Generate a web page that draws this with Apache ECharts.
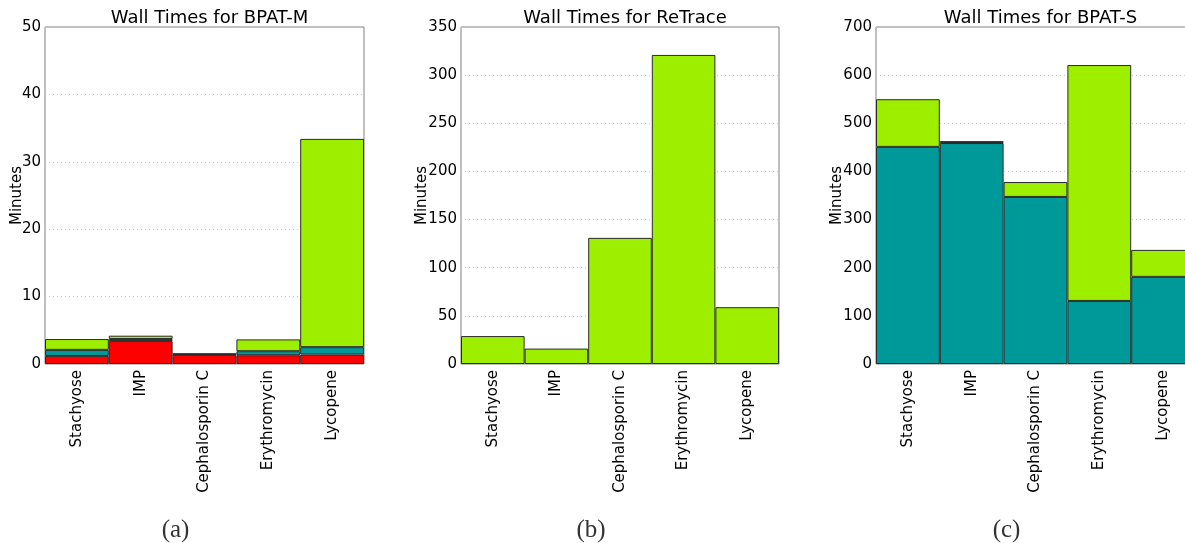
<!DOCTYPE html>
<html><head><meta charset="utf-8">
<script src="https://cdn.jsdelivr.net/npm/echarts@6/dist/echarts.min.js"></script>
<style>html,body{margin:0;padding:0;background:#fff;overflow:hidden}#c{width:1200px;height:543px}</style>
</head><body><div id="c"></div>
<script>
const categories = ['Stachyose', 'IMP', 'Cephalosporin C', 'Erythromycin', 'Lycopene'];
// Panel (a) BPAT-M stacked segments (minutes)
const bpatM_red   = [1.2, 3.4, 1.35, 1.3, 1.4];
const bpatM_teal  = [0.9, 0.3, 0.1, 0.6, 1.1];
const bpatM_green = [1.6, 0.5, 0.1, 1.75, 30.9];
// Panel (b) ReTrace
const retrace_green = [29, 16, 131, 321, 59];
// Panel (c) BPAT-S stacked segments
const bpatS_teal  = [451, 459, 347, 131, 181];
const bpatS_green = [99, 4, 31, 490, 56];

const titles = ['Wall Times for BPAT-M', 'Wall Times for ReTrace', 'Wall Times for BPAT-S'];
const yMax = [50, 350, 700];
const yInterval = [10, 50, 100];
const panelLabels = ['(a)', '(b)', '(c)'];

const RED = '#ff0000', TEAL = '#009999', GREEN = '#9eee00';
const FONT = 'DejaVu Sans';
const lefts = [45, 461, 876];
const widths = [319, 318, 319];
const nameGaps = [20, 31, 31];

const grids = [], xAxes = [], yAxes = [], titleArr = [];
for (let i = 0; i < 3; i++) {
  grids.push({left: lefts[i], top: 27, width: widths[i], height: 337, show: true,
    borderColor: '#808080', borderWidth: 1, backgroundColor: 'transparent'});
  xAxes.push({type: 'category', gridIndex: i, data: categories,
    axisLine: {show: false}, axisTick: {show: false},
    axisLabel: {rotate: 90, fontFamily: FONT, fontSize: 15, color: '#000', margin: 6, interval: 0}});
  yAxes.push({type: 'value', gridIndex: i, min: 0, max: yMax[i], interval: yInterval[i],
    name: 'Minutes', nameLocation: 'middle', nameGap: nameGaps[i], nameRotate: 90,
    nameMoveOverlap: false,
    nameTextStyle: {fontFamily: FONT, fontSize: 15, color: '#000'},
    axisLine: {show: false}, axisTick: {show: false},
    axisLabel: {fontFamily: FONT, fontSize: 15, color: '#000', margin: 4},
    splitLine: {show: true, lineStyle: {color: '#c8c8c8', type: [1, 3], width: 1}}});
  titleArr.push({text: titles[i], left: lefts[i] + widths[i] / 2, top: 4, textAlign: 'center',
    textStyle: {fontFamily: FONT, fontSize: 18, fontWeight: 'normal', color: '#000'}});
  titleArr.push({text: panelLabels[i], left: lefts[i] + widths[i] / 2 - 34, top: 513, textAlign: 'center',
    textStyle: {fontFamily: 'Liberation Serif', fontSize: 25, fontWeight: 'normal', color: '#333'}});
}

function bar(xi, data, color, stack) {
  return {type: 'bar', xAxisIndex: xi, yAxisIndex: xi, data: data, stack: stack,
    barWidth: '100%', barCategoryGap: 0, silent: true,
    itemStyle: {color: color, borderColor: '#2a2a2a', borderWidth: 1}};
}

const option = {
  animation: false,
  title: titleArr,
  grid: grids,
  xAxis: xAxes,
  yAxis: yAxes,
  series: [
    bar(0, bpatM_red, RED, 'a'),
    bar(0, bpatM_teal, TEAL, 'a'),
    bar(0, bpatM_green, GREEN, 'a'),
    bar(1, retrace_green, GREEN, 'b'),
    bar(2, bpatS_teal, TEAL, 'c'),
    bar(2, bpatS_green, GREEN, 'c')
  ]
};
const chart = echarts.init(document.getElementById('c'), null, {renderer: 'canvas'});
chart.setOption(option);
</script></body></html>
